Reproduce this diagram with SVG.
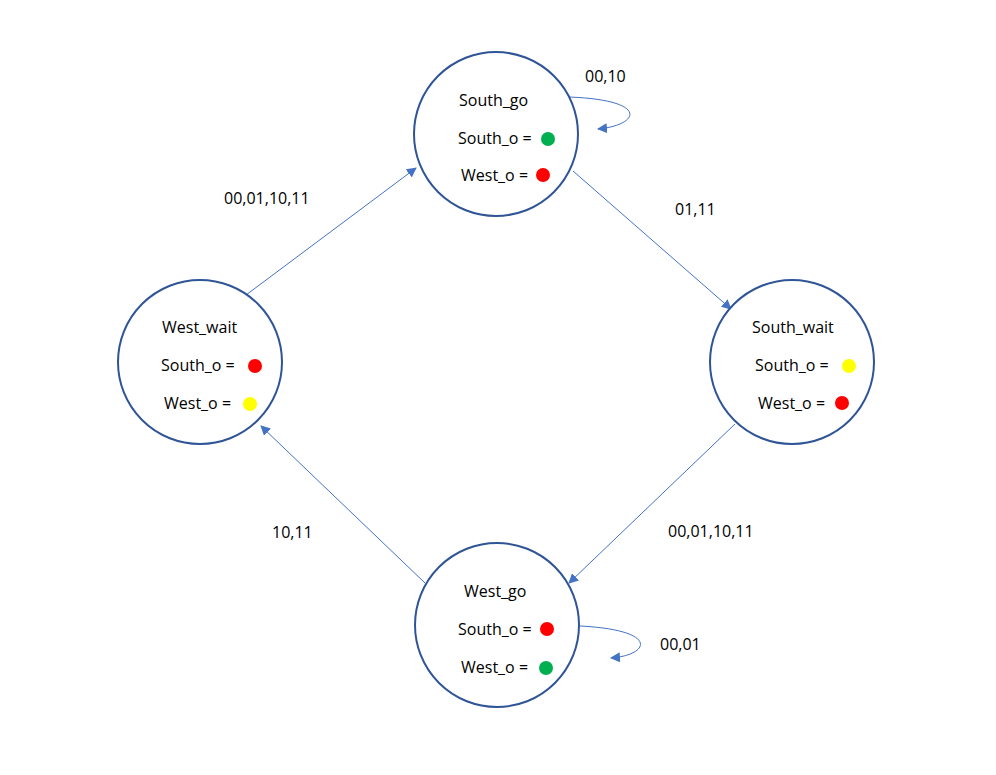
<svg xmlns="http://www.w3.org/2000/svg" width="996" height="775" viewBox="0 0 996 775">
<defs>
<style>
.st{fill:#fff;stroke:#2F5597;stroke-width:2}
.t{font-family:"Open Sans","Liberation Sans",sans-serif;font-size:16px;fill:#000}
.c{fill:none;stroke:#4472C4;stroke-width:1}
.g{fill:#00B050}.r{fill:#FF0000}.y{fill:#FFFF00}
</style>
<marker id="ah" viewBox="0 0 10 10" refX="9" refY="5" markerWidth="10" markerHeight="10" markerUnits="userSpaceOnUse" orient="auto">
<path d="M0,0 L10,5 L0,10 z" fill="#4472C4"/>
</marker>
</defs>
<rect width="996" height="775" fill="#fff"/>
<g id="connectors">
<line class="c" x1="246" y1="295" x2="416" y2="168" marker-end="url(#ah)"/>
<line class="c" x1="573" y1="171" x2="731" y2="309" marker-end="url(#ah)"/>
<line class="c" x1="735" y1="424" x2="569" y2="583" marker-end="url(#ah)"/>
<line class="c" x1="425" y1="583" x2="261" y2="426" marker-end="url(#ah)"/>
<path class="c" d="M569,97 C650,100 640,125 598,129" marker-end="url(#ah)"/>
<path class="c" d="M580,626 C660,630 650,655 611,658" marker-end="url(#ah)"/>
<text class="t" x="585" y="82">00,10</text>
<text class="t" x="675" y="215">01,11</text>
<text class="t" x="224" y="204">00,01,10,11</text>
<text class="t" x="668" y="537">00,01,10,11</text>
<text class="t" x="272" y="538">10,11</text>
<text class="t" x="660" y="650">00,01</text>
</g>
<g id="South_go">
<circle class="st" cx="496" cy="134" r="82"/>
<text class="t" x="459" y="106">South_go</text>
<text class="t" x="458" y="144">South_o =</text>
<circle class="g" cx="548" cy="139" r="7"/>
<text class="t" x="461" y="181">West_o =</text>
<circle class="r" cx="543" cy="175" r="7"/>
</g>
<g id="South_wait">
<circle class="st" cx="792" cy="362" r="82"/>
<text class="t" x="752" y="333">South_wait</text>
<text class="t" x="755" y="371">South_o =</text>
<circle class="y" cx="849" cy="366" r="7"/>
<text class="t" x="758" y="409">West_o =</text>
<circle class="r" cx="842" cy="403" r="7"/>
</g>
<g id="West_go">
<circle class="st" cx="497" cy="625" r="82"/>
<text class="t" x="464" y="597">West_go</text>
<text class="t" x="458" y="635">South_o =</text>
<circle class="r" cx="547" cy="629" r="7"/>
<text class="t" x="461" y="673">West_o =</text>
<circle class="g" cx="546" cy="668" r="7"/>
</g>
<g id="West_wait">
<circle class="st" cx="200" cy="362" r="82"/>
<text class="t" x="162" y="333">West_wait</text>
<text class="t" x="161" y="371">South_o =</text>
<circle class="r" cx="255" cy="366" r="7"/>
<text class="t" x="164" y="409">West_o =</text>
<circle class="y" cx="250" cy="404" r="7"/>
</g>
</svg>
